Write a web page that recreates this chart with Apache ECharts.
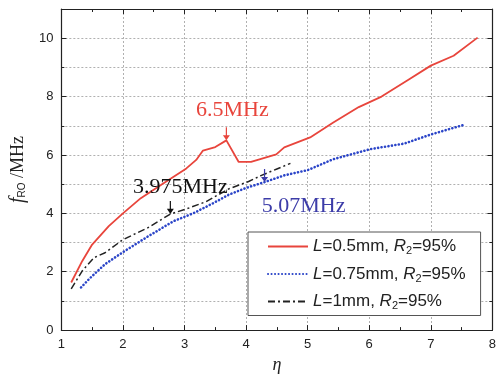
<!DOCTYPE html>
<html><head><meta charset="utf-8">
<script src="https://cdn.jsdelivr.net/npm/echarts@6/dist/echarts.min.js"></script>
<style>html,body{margin:0;padding:0;background:#fff}#c{width:499px;height:379px}</style>
</head><body><div id="c"></div>
<script>
// data (eta, f_RO in MHz)
const seriesNames = ['L=0.5mm, R2=95%', 'L=0.75mm, R2=95%', 'L=1mm, R2=95%'];
const legendText = ['{i|L}=0.5mm, {i|R}{s|2}=95%', '{i|L}=0.75mm, {i|R}{s|2}=95%', '{i|L}=1mm, {i|R}{s|2}=95%'];
const redData = [[1.16,1.63],[1.34,2.37],[1.5,2.93],[1.77,3.56],[2.0,4.0],[2.29,4.52],[2.66,5.03],[3.03,5.54],[3.19,5.83],[3.3,6.15],[3.5,6.27],[3.68,6.5],[3.88,5.76],[4.08,5.76],[4.49,6.02],[4.62,6.26],[5.04,6.6],[5.41,7.1],[5.83,7.64],[6.2,8.0],[6.63,8.57],[7.0,9.06],[7.37,9.4],[7.76,10.02]];
const blueData = [[1.32,1.46],[1.45,1.75],[1.71,2.26],[2.0,2.67],[2.4,3.2],[2.82,3.73],[3.14,4.0],[3.46,4.34],[3.72,4.64],[4.0,4.87],[4.3,5.07],[4.62,5.3],[5.0,5.48],[5.41,5.85],[6.02,6.2],[6.57,6.39],[7.0,6.7],[7.52,7.02]];
const blackData = [[1.16,1.41],[1.34,2.03],[1.53,2.48],[1.71,2.65],[2.0,3.1],[2.4,3.5],[2.77,3.975],[3.03,4.15],[3.35,4.4],[3.72,4.84],[4.04,5.09],[4.25,5.3],[4.5,5.52],[4.72,5.71]];
const annotText = ['6.5MHz', '5.07MHz', '3.975MHz'];
const annotIndex = [11, 10, 6];
const xTicks = [1, 8, 1];
const yTicks = [0, 11, 2];

const chart = echarts.init(document.getElementById('c'));
const gridDash = {show:true, lineStyle:{color:'#b0b0b0', type:[2,2], width:1}};
const axLine = {show:true, onZero:false, lineStyle:{color:'#222', width:1.2}};
function arrow(coord, txt, color, dx, dy){
  return {
    symbol:'path://M4.4 0 L5.6 0 L5.6 12 L8.5 12 L5 20 L1.5 12 L4.4 12 Z',
    symbolSize:[7,13], symbolKeepAspect:false, symbolOffset:[0,'-50%'],
    itemStyle:{color:color},
    data:[{coord:coord, value:txt}],
    label:{show:true, formatter:txt, position:[3.5+dx, 13+dy], align:'center', verticalAlign:'middle',
      color:color, fontFamily:'Liberation Serif', fontSize:22},
    animation:false, silent:true
  };
}
chart.setOption({
  animation:false,
  grid:{left:55, right:2, top:9, bottom:46},
  xAxis:[
    {type:'value', min:xTicks[0], max:xTicks[1], interval:xTicks[2], position:'bottom',
     axisLine:axLine, axisTick:{show:true, inside:true, length:5, lineStyle:{color:'#222'}},
     minorTick:{show:true, splitNumber:2, length:3, lineStyle:{color:'#222'}},
     axisLabel:{color:'#222', fontFamily:'Liberation Sans', fontSize:13, margin:8},
     splitLine:gridDash,
     name:'η', nameLocation:'middle', nameGap:25,
     nameTextStyle:{fontFamily:'Liberation Serif', fontStyle:'italic', fontSize:18, color:'#222'}},
    {type:'value', min:xTicks[0], max:xTicks[1], interval:xTicks[2], position:'top',
     axisLine:axLine, axisTick:{show:true, inside:true, length:5, lineStyle:{color:'#222'}},
     minorTick:{show:true, splitNumber:2, length:3, lineStyle:{color:'#222'}},
     axisLabel:{show:false}, splitLine:{show:false}}
  ],
  yAxis:[
    {type:'value', min:yTicks[0], max:yTicks[1], interval:yTicks[2], position:'left',
     axisLine:axLine, axisTick:{show:true, inside:true, length:5, lineStyle:{color:'#222'}},
     axisLabel:{color:'#222', fontFamily:'Liberation Sans', fontSize:13, margin:8, showMaxLabel:false},
     splitLine:{show:false},
     name:'{f|f}{s|RO}{m| /MHz}', nameLocation:'middle', nameGap:28, nameRotate:90,
     nameTextStyle:{color:'#222', rich:{
       f:{fontFamily:'Liberation Serif', fontStyle:'italic', fontSize:20, color:'#222'},
       s:{fontFamily:'Liberation Sans', fontSize:10, color:'#222', padding:[8,0,0,0]},
       m:{fontFamily:'Liberation Serif', fontSize:18, color:'#222'}}}},
    {type:'value', min:yTicks[0], max:yTicks[1], interval:1, position:'left',
     axisLine:{show:false}, axisTick:{show:true, inside:true, length:3, lineStyle:{color:'#222'}},
     axisLabel:{show:false}, splitLine:gridDash},
    {type:'value', min:yTicks[0], max:yTicks[1], interval:yTicks[2], position:'right',
     axisLine:axLine, axisTick:{show:true, inside:true, length:5, lineStyle:{color:'#222'}},
     axisLabel:{show:false}, splitLine:{show:false}},
    {type:'value', min:yTicks[0], max:yTicks[1], interval:1, position:'right',
     axisLine:{show:false}, axisTick:{show:true, inside:true, length:3, lineStyle:{color:'#222'}},
     axisLabel:{show:false}, splitLine:{show:false}}
  ],
  legend:{
    orient:'vertical', left:248, top:232,
    padding:[6,15,4,19], itemGap:9, itemWidth:40, itemHeight:14,
    backgroundColor:'#fff', borderColor:'#555', borderWidth:1, borderRadius:0,
    data:seriesNames,
    itemStyle:{opacity:0},
    formatter:function(n){return legendText[seriesNames.indexOf(n)];},
    textStyle:{color:'#222', fontFamily:'Liberation Sans', fontSize:17,
      rich:{i:{fontStyle:'italic', fontFamily:'Liberation Sans', fontSize:17, color:'#222'},
            s:{fontFamily:'Liberation Sans', fontSize:11, color:'#222', padding:[9,0,0,0]}}}
  },
  series:[
    {name:seriesNames[0], type:'line', data:redData, symbol:'none', xAxisIndex:0, yAxisIndex:0,
     lineStyle:{color:'#e8453c', width:1.8}, itemStyle:{color:'#e8453c'}, z:3,
     markPoint:arrow(redData[annotIndex[0]], annotText[0], '#e8453c', 6, -30)},
    {name:seriesNames[1], type:'line', data:blueData, symbol:'none', xAxisIndex:0, yAxisIndex:0,
     lineStyle:{color:'#2b45c8', width:2.6, type:[0.1,3.4], cap:'round'}, itemStyle:{color:'#2b45c8'}, z:2,
     markPoint:arrow(blueData[annotIndex[1]], annotText[1], '#3c3ca8', 39, 24)},
    {name:seriesNames[2], type:'line', data:blackData, symbol:'none', xAxisIndex:0, yAxisIndex:0,
     lineStyle:{color:'#222', width:1.5, type:[7,3,2,3]}, itemStyle:{color:'#222'}, z:2,
     markPoint:arrow(blackData[annotIndex[2]], annotText[2], '#111', 10, -27)}
  ]
});
</script></body></html>
